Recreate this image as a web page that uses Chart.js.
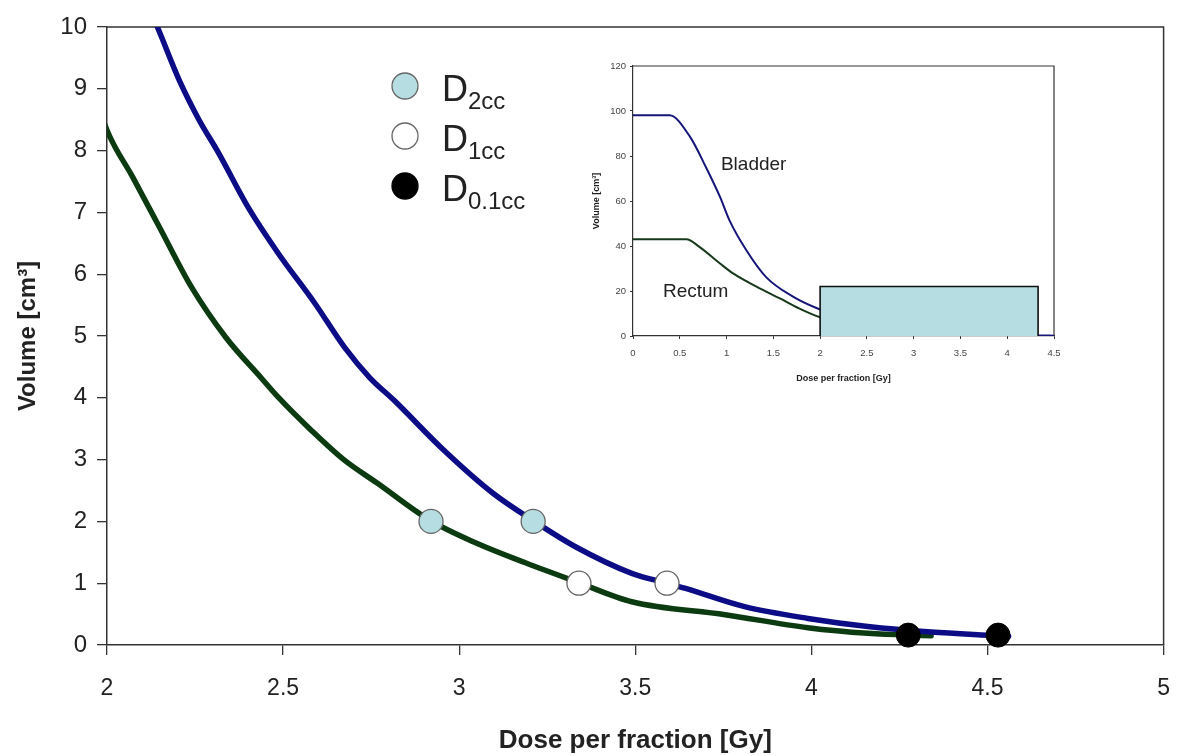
<!DOCTYPE html>
<html>
<head>
<meta charset="utf-8">
<script src="https://cdn.jsdelivr.net/npm/chart.js@4"></script>
<style>
  body { margin: 0; background: #fff; }
  #wrap { position: relative; width: 1190px; height: 756px; }
  #inset_box { position: absolute; left: 585px; top: 52px; width: 490px; height: 345px; }
</style>
</head>
<body>
<div id="wrap">
  <canvas id="main_chart" width="1190" height="756"></canvas>
  <div id="inset_box"><canvas id="inset_chart" width="490" height="345"></canvas></div>
</div>
<script>
// dose per fraction [Gy] vs volume [cm3]
var bladder_x = [0, 0.39, 0.61, 0.78, 0.93, 1.03, 1.21, 1.42, 1.71, 2.0, 2.143, 2.205, 2.261, 2.317, 2.40, 2.486,
                 2.59, 2.674, 2.747, 2.815, 2.955, 3.095, 3.208, 3.33, 3.49, 3.59, 3.64, 3.81, 3.99, 4.16, 4.34, 4.53, 4.56];
var bladder_y = [98.1, 98.1, 88.5, 75, 61.8, 51.5, 38.2, 26.3, 17.5, 11.8, 10.0, 9.14, 8.50, 7.96, 7.09, 6.34,
                 5.53, 4.82, 4.32, 3.96, 3.16, 2.46, 2.02, 1.59, 1.16, 1.0, 0.92, 0.62, 0.43, 0.30, 0.21, 0.15, 0.14];

var rectum_x = [0, 0.57, 0.71, 0.93, 1.07, 1.32, 1.57, 1.78, 2.0, 2.073, 2.149, 2.24, 2.337, 2.438, 2.486,
                2.579, 2.674, 2.767, 2.916, 3.048, 3.188, 3.334, 3.49, 3.755, 3.99, 4.16, 4.34];
var rectum_y = [43, 43, 39.6, 32.2, 27.8, 21.9, 16.7, 12.2, 8.33, 7.57, 6.76, 5.79, 4.98, 4.32, 4.01,
                3.48, 2.99, 2.62, 2.02, 1.65, 1.33, 1.02, 0.70, 0.49, 0.28, 0.19, 0.15];

// constraint points: [rectum, bladder]
var d2cc_x = [2.92, 3.21];
var d2cc_y = [2.0, 2.0];
var d1cc_x = [3.34, 3.59];
var d1cc_y = [1.0, 1.0];
var d01cc_x = [4.275, 4.53];
var d01cc_y = [0.16, 0.16];

// zoom window shown in the inset (dose from..to, volume up to)
var box_x = [2.0, 2.0, 4.33, 4.33];
var box_y = [0, 22, 22, 0];

var main_x_ticks = [2, 2.5, 3, 3.5, 4, 4.5, 5];
var main_y_ticks = [0, 1, 2, 3, 4, 5, 6, 7, 8, 9, 10];
var inset_x_ticks = [0, 0.5, 1, 1.5, 2, 2.5, 3, 3.5, 4, 4.5];
var inset_y_ticks = [0, 20, 40, 60, 80, 100, 120];

var legend_names = ['2cc', '1cc', '0.1cc'];
var legend_fill = ['#b6dde1', '#ffffff', '#000000'];

var FONT = "'Liberation Sans', Arial, sans-serif";
var BLUE = '#0c0c86';
var GREEN = '#0d3b11';

function pts(xs, ys) {
    var out = [];
    for (let i = 0; i < xs.length; i++) out.push({x: xs[i], y: ys[i]});
    return out;
}

// top + right border of the plot area
var framePlugin = {
    id: 'frame',
    beforeDatasetsDraw: function (chart, args, opts) {
        var a = chart.chartArea, ctx = chart.ctx;
        ctx.save();
        ctx.strokeStyle = '#333';
        ctx.lineWidth = opts.width || 1.5;
        ctx.beginPath();
        ctx.moveTo(a.left, a.top);
        ctx.lineTo(a.right, a.top);
        ctx.lineTo(a.right, a.bottom);
        ctx.stroke();
        ctx.restore();
    }
};

// legend with subscripts (D_2cc etc.)
var markerLegend = {
    id: 'markerLegend',
    afterDraw: function (chart) {
        var ctx = chart.ctx;
        ctx.save();
        for (let i = 0; i < legend_names.length; i++) {
            var cy = 86 + i * 50;
            ctx.beginPath();
            ctx.arc(405, cy, 13, 0, Math.PI * 2);
            ctx.fillStyle = legend_fill[i];
            ctx.fill();
            ctx.lineWidth = 1.3;
            ctx.strokeStyle = i == 2 ? '#000' : '#666';
            ctx.stroke();
            ctx.fillStyle = '#222';
            ctx.textBaseline = 'alphabetic';
            ctx.textAlign = 'left';
            ctx.font = '36px ' + FONT;
            ctx.fillText('D', 442, cy + 15);
            var w = ctx.measureText('D').width;
            ctx.font = '24px ' + FONT;
            ctx.fillText(legend_names[i], 442 + w, cy + 23);
        }
        ctx.restore();
    }
};

// organ names inside the inset
var organLabels = {
    id: 'organLabels',
    afterDatasetsDraw: function (chart) {
        var ctx = chart.ctx, sx = chart.scales.x, sy = chart.scales.y;
        ctx.save();
        ctx.font = '19px ' + FONT;
        ctx.fillStyle = '#222';
        ctx.textBaseline = 'middle';
        ctx.fillText('Bladder', sx.getPixelForValue(0.94), sy.getPixelForValue(76));
        ctx.fillText('Rectum', sx.getPixelForValue(0.32), sy.getPixelForValue(19.5));
        ctx.restore();
    }
};

function fixedTicks(list) {
    return function (scale) {
        scale.ticks = list.map(function (v) { return {value: v}; });
    };
}

new Chart(document.getElementById('main_chart'), {
    type: 'scatter',
    data: {
        datasets: [
            {label: 'D2cc', data: pts(d2cc_x, d2cc_y), pointRadius: 12, pointBackgroundColor: '#b6dde1',
             pointBorderColor: '#666', pointBorderWidth: 1.3, order: 0, clip: false},
            {label: 'D1cc', data: pts(d1cc_x, d1cc_y), pointRadius: 12, pointBackgroundColor: '#fff',
             pointBorderColor: '#666', pointBorderWidth: 1.3, order: 0, clip: false},
            {label: 'D0.1cc', data: pts(d01cc_x, d01cc_y), pointRadius: 12, pointBackgroundColor: '#000',
             pointBorderColor: '#000', pointBorderWidth: 1, order: 0, clip: false},
            {label: 'Bladder', data: pts(bladder_x, bladder_y), showLine: true, pointRadius: 0,
             borderColor: BLUE, borderWidth: 5.5, cubicInterpolationMode: 'monotone', borderCapStyle: 'round', order: 1},
            {label: 'Rectum', data: pts(rectum_x, rectum_y), showLine: true, pointRadius: 0,
             borderColor: GREEN, borderWidth: 5.5, cubicInterpolationMode: 'monotone', borderCapStyle: 'round', order: 1}
        ]
    },
    options: {
        responsive: false,
        animation: false,
        devicePixelRatio: 1,
        layout: {padding: {left: 0, right: 14, top: 27, bottom: 0}},
        plugins: {legend: {display: false}, tooltip: {enabled: false}, frame: {width: 1.5}},
        scales: {
            x: {
                type: 'linear', min: 2, max: 5,
                afterBuildTicks: fixedTicks(main_x_ticks),
                afterFit: function (s) { s.height = 111; },
                ticks: {font: {size: 23, family: FONT}, color: '#222', padding: 20,
                        maxRotation: 0, callback: function (v) { return '' + v; }},
                grid: {drawOnChartArea: false, tickLength: 10, color: '#333', lineWidth: 1.3},
                border: {color: '#333', width: 1.5},
                title: {display: true, text: 'Dose per fraction [Gy]', color: '#222',
                        font: {size: 26, weight: 'bold', family: FONT}, padding: {top: 0, bottom: 0}}
            },
            y: {
                min: 0, max: 10,
                afterBuildTicks: fixedTicks(main_y_ticks),
                afterFit: function (s) { s.width = 107; },
                ticks: {font: {size: 24, family: FONT}, color: '#222', padding: 10},
                grid: {drawOnChartArea: false, tickLength: 10, color: '#333', lineWidth: 1.3},
                border: {color: '#333', width: 1.5},
                title: {display: true, text: 'Volume [cm³]', color: '#222',
                        font: {size: 24, weight: 'bold', family: FONT}, padding: {top: 14, bottom: 0}}
            }
        }
    },
    plugins: [framePlugin, markerLegend]
});

new Chart(document.getElementById('inset_chart'), {
    type: 'scatter',
    data: {
        datasets: [
            {label: 'window', data: pts(box_x, box_y), showLine: true, pointRadius: 0, tension: 0,
             borderColor: '#111', borderWidth: 1.6, backgroundColor: '#b6dde1', fill: 'origin', order: 0},
            {label: 'Bladder', data: pts(bladder_x, bladder_y), showLine: true, pointRadius: 0,
             borderColor: '#16167a', borderWidth: 2, cubicInterpolationMode: 'monotone', order: 1},
            {label: 'Rectum', data: pts(rectum_x, rectum_y), showLine: true, pointRadius: 0,
             borderColor: '#17381a', borderWidth: 2, cubicInterpolationMode: 'monotone', order: 1}
        ]
    },
    options: {
        responsive: false,
        animation: false,
        devicePixelRatio: 1,
        layout: {padding: {left: 0, right: 21, top: 14, bottom: 0}},
        plugins: {legend: {display: false}, tooltip: {enabled: false}, frame: {width: 1.2}},
        scales: {
            x: {
                type: 'linear', min: 0, max: 4.5,
                afterBuildTicks: fixedTicks(inset_x_ticks),
                afterFit: function (s) { s.height = 61; },
                ticks: {font: {size: 9.5, family: FONT}, color: '#444', padding: 9,
                        maxRotation: 0, callback: function (v) { return '' + v; }},
                grid: {drawOnChartArea: false, tickLength: 3, color: '#333'},
                border: {color: '#333', width: 1.2},
                title: {display: true, text: 'Dose per fraction [Gy]', color: '#222',
                        font: {size: 9, weight: 'bold', family: FONT}, padding: {top: 0, bottom: 13}}
            },
            y: {
                min: 0, max: 120,
                afterBuildTicks: fixedTicks(inset_y_ticks),
                afterFit: function (s) { s.width = 48; },
                ticks: {font: {size: 9.5, family: FONT}, color: '#444', padding: 4},
                grid: {drawOnChartArea: false, tickLength: 3, color: '#333'},
                border: {color: '#333', width: 1.2},
                title: {display: true, text: 'Volume [cm³]', color: '#222',
                        font: {size: 9, weight: 'bold', family: FONT}, padding: {top: 6, bottom: 0}}
            }
        }
    },
    plugins: [framePlugin, organLabels]
});
</script>
</body>
</html>
